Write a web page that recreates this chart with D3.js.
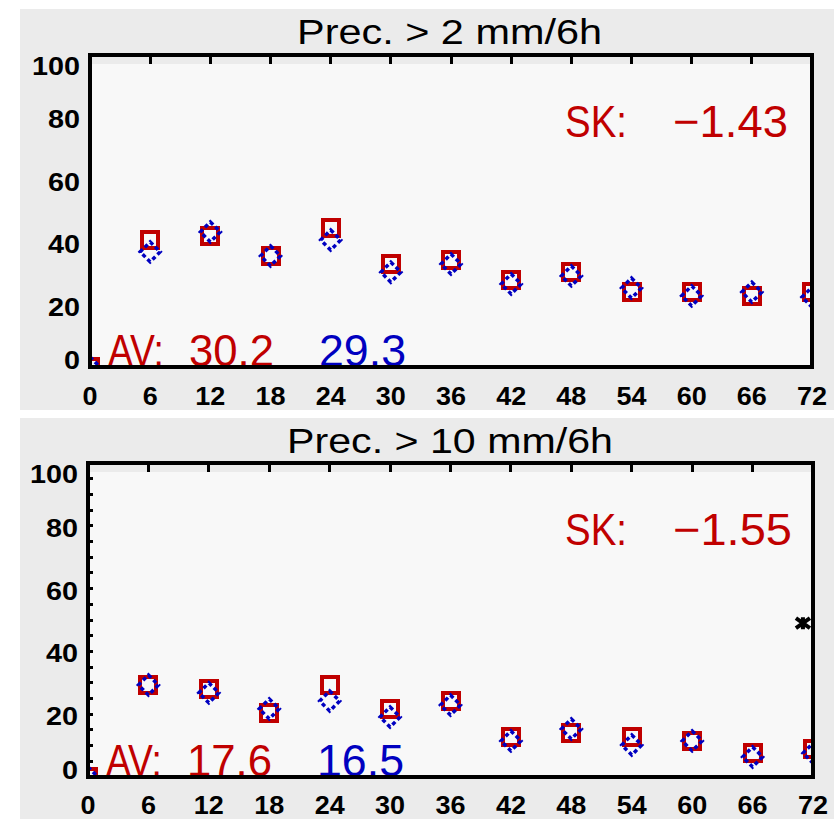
<!DOCTYPE html>
<html>
<head>
<meta charset="utf-8">
<script src="https://cdn.jsdelivr.net/npm/d3@7"></script>
<style>
  body { margin: 0; background: #fff; }
  svg { display: block; }
  text { font-family: "Liberation Sans", "DejaVu Sans", sans-serif; }
</style>
</head>
<body>
<div id="chart"></div>
<script>
// forecast hours (x axis)
var hours = [0, 6, 12, 18, 24, 30, 36, 42, 48, 54, 60, 66, 72];
var yTicks = [0, 20, 40, 60, 80, 100];

// Prec. > 2 mm/6h
var p2Red  = [0, 40.7, 42.0, 35.6, 44.6, 33.0, 34.3, 27.9, 30.4, 24.0, 24.0, 22.8, 24.0];
var p2Blue = [0, 36.9, 43.3, 35.6, 40.7, 30.4, 33.0, 26.6, 29.2, 25.3, 22.8, 24.0, 22.4];

// Prec. > 10 mm/6h
var p10Red  = [0, 29.3, 28.0, 20.4, 29.3, 21.7, 24.2, 12.7, 14.0, 12.7, 11.5, 7.6, 8.9];
var p10Blue = [0, 29.3, 26.8, 21.7, 24.2, 19.1, 22.9, 11.5, 15.3, 10.2, 11.5, 6.4, 7.6];
var p10Extra = [{h: 71, v: 49}];

var RED = "#c00000", BLUE = "#0000c0";

var svg = d3.select("#chart").append("svg")
    .attr("width", 834)
    .attr("height", 819);

function drawPanel(p) {
    var g = svg.append("g");

    // gray background of the panel
    g.append("rect")
        .attr("x", p.bx).attr("y", p.by)
        .attr("width", p.bw).attr("height", p.bh)
        .attr("fill", "#ebebeb");

    var x = d3.scaleLinear().domain([0, 72]).range([p.left, p.right]);
    var y = d3.scaleLinear().domain([0, 100]).range([p.bottom, p.top]);

    // light plot area (starts a bit below the top frame)
    g.append("rect")
        .attr("x", p.left + 2).attr("y", p.top + 9)
        .attr("width", p.right - p.left - 4).attr("height", p.bottom - p.top - 11)
        .attr("fill", "#f8f8f8");

    // title
    g.append("text")
        .attr("x", p.titleX).attr("y", p.titleY)
        .attr("font-size", 35)
        .attr("textLength", p.titleW).attr("lengthAdjust", "spacingAndGlyphs")
        .text(p.title);

    var clipId = "clip" + p.id;
    g.append("clipPath").attr("id", clipId)
        .append("rect")
        .attr("x", p.left).attr("y", p.top)
        .attr("width", p.right - p.left).attr("height", p.bottom - p.top);

    // top ticks
    g.selectAll("line.tt")
        .data(hours.slice(1, -1))
        .enter().append("line")
        .attr("x1", function(d) { return x(d); })
        .attr("x2", function(d) { return x(d); })
        .attr("y1", p.top).attr("y2", p.top + 9)
        .attr("stroke", "#000").attr("stroke-width", 3)
        .attr("shape-rendering", "crispEdges");

    // minor left ticks (only second panel)
    if (p.minor) {
        g.selectAll("line.mt")
            .data(d3.range(5, 100, 5))
            .enter().append("line")
            .attr("x1", p.left).attr("x2", p.left + 5)
            .attr("y1", function(d) { return y(d); })
            .attr("y2", function(d) { return y(d); })
            .attr("stroke", "#000").attr("stroke-width", 3)
            .attr("shape-rendering", "crispEdges");
    }

    // x tick labels
    g.selectAll("text.xl")
        .data(hours)
        .enter().append("text")
        .attr("x", function(d) { return x(d); })
        .attr("y", p.xLabelY)
        .attr("text-anchor", "middle")
        .attr("font-size", 25).attr("font-weight", "bold")
        .attr("textLength", function(d) { return String(d).length * 15; })
        .attr("lengthAdjust", "spacingAndGlyphs")
        .text(function(d) { return d; });

    // y tick labels
    g.selectAll("text.yl")
        .data(yTicks)
        .enter().append("text")
        .attr("x", p.left - 10)
        .attr("y", function(d) {
            var c = Math.max(p.top + 11, Math.min(p.bottom - 7, y(d) + 2));
            return c + 9;
        })
        .attr("text-anchor", "end")
        .attr("font-size", 25).attr("font-weight", "bold")
        .attr("textLength", function(d) { return String(d).length * 16; })
        .attr("lengthAdjust", "spacingAndGlyphs")
        .text(function(d) { return d; });

    // statistics text
    function label(txt, x0, w, base, col) {
        g.append("text")
            .attr("x", x0).attr("y", base)
            .attr("font-size", 45).attr("fill", col)
            .attr("textLength", w).attr("lengthAdjust", "spacingAndGlyphs")
            .text(txt);
    }
    label("SK:", 565, 62, p.top + 82, RED);
    label(p.sk, 673, p.skW, p.top + 82, RED);
    label("AV:", p.left + 18, 56, p.bottom - 1, RED);
    label(p.avRed, p.left + 99, 85, p.bottom - 1, RED);
    label(p.avBlue, p.left + 229, 87, p.bottom - 1, BLUE);

    // markers
    var marks = g.append("g").attr("clip-path", "url(#" + clipId + ")");

    marks.selectAll("rect.red")
        .data(p.red)
        .enter().append("rect")
        .attr("x", function(d, i) { return x(hours[i]) - 8; })
        .attr("y", function(d) { return y(d) - 8; })
        .attr("width", 16).attr("height", 16)
        .attr("fill", "none")
        .attr("stroke", RED).attr("stroke-width", 4)
        .attr("shape-rendering", "crispEdges");

    marks.selectAll("path.blue")
        .data(p.blue)
        .enter().append("path")
        .attr("transform", function(d, i) { return "translate(" + x(hours[i]) + "," + y(d) + ")"; })
        .attr("d", "M0,-10L10,0L0,10L-10,0Z")
        .attr("fill", "none")
        .attr("stroke", BLUE).attr("stroke-width", 3.5)
        .attr("stroke-dasharray", "4,3");

    if (p.extra) {
        marks.selectAll("path.extra")
            .data(p.extra)
            .enter().append("path")
            .attr("transform", function(d) { return "translate(" + x(d.h) + "," + y(d.v) + ")"; })
            .attr("d", "M-7,-5L7,5M-7,5L7,-5M0,-6L0,6")
            .attr("stroke", "#000").attr("stroke-width", 4);
    }

    // frame
    g.append("rect")
        .attr("x", p.left).attr("y", p.top)
        .attr("width", p.right - p.left).attr("height", p.bottom - p.top)
        .attr("fill", "none")
        .attr("stroke", "#000").attr("stroke-width", 4)
        .attr("shape-rendering", "crispEdges");
}

drawPanel({
    id: 1, bx: 20, by: 9, bw: 814, bh: 401,
    left: 90, right: 812, top: 55, bottom: 367,
    title: "Prec. > 2 mm/6h", titleX: 297, titleY: 44, titleW: 305,
    xLabelY: 405,
    red: p2Red, blue: p2Blue,
    sk: "\u22121.43", skW: 115,
    avRed: "30.2", avBlue: "29.3",
    minor: false
});

drawPanel({
    id: 2, bx: 20, by: 418, bw: 814, bh: 401,
    left: 88, right: 813, top: 463, bottom: 777,
    title: "Prec. > 10 mm/6h", titleX: 287, titleY: 453, titleW: 326,
    xLabelY: 814,
    red: p10Red, blue: p10Blue, extra: p10Extra,
    sk: "\u22121.55", skW: 119,
    avRed: "17.6", avBlue: "16.5",
    minor: true
});
</script>
</body>
</html>
